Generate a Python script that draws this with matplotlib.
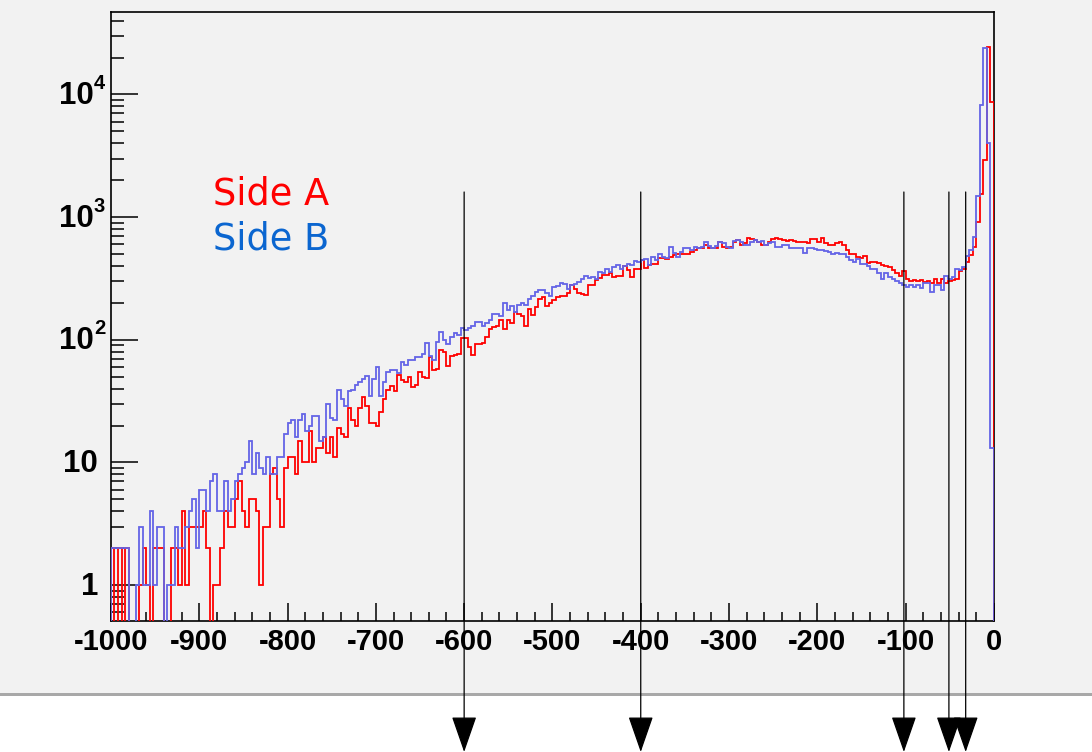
import numpy as np
import matplotlib
matplotlib.use("Agg")
import matplotlib.pyplot as plt
import matplotlib.patches as patches
import matplotlib.transforms as mtransforms
from matplotlib.ticker import FixedLocator, LogLocator, MultipleLocator, NullFormatter

# 250 bins of width 4 between -1000 and 0
x_lo, x_hi, n_bins = -1000, 0, 250

side_a = [
    2, 0, 2, 0, 2, 0, 0, 0, 1, 2, 1, 0, 2, 2, 2, 0, 0, 2, 2, 1,
    4, 1, 3, 3, 3, 3, 4, 2, 0, 1, 1, 2, 4, 3, 3, 5, 7, 4, 3, 5,
    5, 4, 1,
    3, 3, 8, 9, 5, 3, 9, 11, 11, 8, 15, 10, 10, 18, 10, 13, 13, 16, 12, 16,
    11, 19, 17, 16, 28, 22, 20, 28, 34, 29, 21, 21, 20, 26, 33, 39, 42, 38, 52, 47,
    45, 50,
    41, 43, 55, 50, 49, 72, 57, 58, 82, 79, 61, 74, 75, 76, 104, 104, 87, 75, 92, 92,
    95, 106, 122, 128, 129, 145, 122, 145, 138, 167, 163, 155, 129, 177, 159, 184, 214, 225, 189, 201,
    211, 222, 228,
    228, 240, 281, 260, 240, 235, 230, 281, 281, 307, 317, 337, 340, 348, 327, 330, 330, 402, 370, 327,
    381, 381, 449, 386, 406, 418, 418, 466, 466, 455, 474, 490, 505, 505, 505, 505, 520, 537, 556, 556,
    597, 556, 560,
    556, 623, 572, 556, 572, 623, 650, 590, 610, 678, 662, 650, 630, 597, 597, 630, 662, 670, 662, 650,
    637, 650, 637, 630, 630, 623, 610, 662, 662, 630, 678, 610, 590, 597, 610, 630, 590, 537, 505, 497,
    473, 466,
    480, 426, 434, 430, 426, 407, 400, 394, 373, 349, 330, 367, 313, 303, 308, 303, 308, 298, 303, 292,
    313, 292, 313, 292, 303, 308, 313, 367, 380, 430, 490, 575, 910, 1530, 2930, 24600, 8630,
]

side_b = [
    2, 2, 2, 2, 2, 0, 0, 1, 3, 1, 1, 4, 1, 3, 3, 0, 1, 1, 3, 2,
    2, 3, 4, 5, 2, 6, 6, 4, 7, 8, 4, 4, 7, 4, 5, 7, 8, 9, 10, 15,
    8, 12, 9,
    8, 11, 8, 8, 11, 11, 17, 21, 22, 16, 22, 25, 18, 20, 24, 24, 15, 16, 30, 23,
    22, 39, 33, 29, 38, 39, 43, 45, 48, 51, 35, 48, 60, 35, 45, 55, 57, 57, 54, 66,
    62, 68,
    69, 73, 72, 77, 95, 74, 69, 96, 116, 99, 93, 106, 113, 110, 124, 120, 124, 129, 140, 140,
    129, 136, 145, 163, 163, 155, 199, 175, 188, 167, 192, 199, 192, 214, 228, 246, 257, 254, 239, 228,
    271, 274, 291,
    287, 260, 281, 287, 298, 312, 333, 322, 328, 312, 359, 349, 377, 359, 394, 406, 381, 400, 418, 411,
    437, 432, 451, 454, 406, 473, 445, 505, 473, 465, 572, 514, 473, 520, 561, 561, 537, 572, 556, 572,
    630, 583, 556,
    583, 630, 610, 572, 556, 637, 650, 630, 590, 597, 630, 650, 630, 637, 590, 610, 630, 572, 572, 590,
    597, 561, 561, 556, 556, 514, 561, 556, 549, 537, 537, 527, 520, 497, 514, 505, 497, 473, 445, 432,
    459, 418,
    417, 402, 380, 380, 350, 313, 349, 326, 313, 303, 292, 282, 267, 282, 267, 282, 263, 292, 288, 244,
    282, 280, 253, 330, 313, 326, 380, 369, 391, 479, 542, 684, 1478, 8200, 23800, 4040, 13,
]

# cut positions marked with arrows
cuts = [-600, -400, -102, -51, -32]

# y labels: (tick, mantissa, exponent)
y_ticks = [1, 10, 100, 1000, 10000]
y_base = ['1', '10', '10', '10', '10']
y_exp = ['', '', '2', '3', '4']

edges = np.linspace(x_lo, x_hi, n_bins + 1)
floor = 1e-3
lab_font = dict(family='Liberation Sans', weight='bold')

fig = plt.figure(figsize=(10.92, 7.52), dpi=100, facecolor='white')
# canvas background and its lower border
fig.patches.append(patches.Rectangle((0, 0.0785), 1, 1 - 0.0785, transform=fig.transFigure,
                                     facecolor='#f2f2f2', edgecolor='none', zorder=-10))
fig.patches.append(patches.Rectangle((0, 0.0745), 1, 0.0045, transform=fig.transFigure,
                                     facecolor='#a8a8a8', edgecolor='none', zorder=-10))

ax = fig.add_axes([0.1016, 0.1742, 0.8086, 0.8098])
ax.set_facecolor('#f2f2f2')

a = np.array(side_a, dtype=float)
b = np.array(side_b, dtype=float)
ax.stairs(np.where(a > 0, a, floor), edges, baseline=floor, color='#ff0000', lw=1.3, zorder=3)
ax.stairs(np.where(b > 0, b, floor), edges, baseline=floor, color='#6464e6', lw=1.3, zorder=3)

ax.set_yscale('log')
ax.set_xlim(x_lo, x_hi)
ax.set_ylim(0.51, 47000)

ax.set_xticks(np.arange(x_lo, x_hi + 1, 100))
ax.set_xticklabels([f'{v}' for v in range(x_lo, x_hi + 1, 100)])
ax.xaxis.set_minor_locator(MultipleLocator(20))
ax.yaxis.set_major_locator(FixedLocator(y_ticks))
ax.yaxis.set_major_formatter(NullFormatter())
ax.yaxis.set_minor_locator(LogLocator(base=10, subs=np.arange(2, 10), numticks=20))
ax.yaxis.set_minor_formatter(NullFormatter())

ax.tick_params(axis='x', which='major', direction='in', length=12.7, width=1.1, pad=5,
               labelsize=21, top=False)
ax.tick_params(axis='x', which='minor', direction='in', length=6.5, width=1.1, top=False)
ax.tick_params(axis='y', which='major', direction='in', length=19.4, width=1.1, right=False)
ax.tick_params(axis='y', which='minor', direction='in', length=9.7, width=1.1, right=False)
for lab in ax.get_xticklabels():
    lab.set_fontfamily('Liberation Sans')
    lab.set_fontweight('bold')

# y labels written as mantissa plus raised exponent
for t, base, ex in zip(y_ticks, y_base, y_exp):
    dx = -13 if not ex else -17
    ax.annotate(base, xy=(0, t), xycoords=('axes fraction', 'data'),
                xytext=(dx * 0.72, -1), textcoords='offset points',
                ha='right', va='center', fontsize=22.5, **lab_font)
    if ex:
        ax.annotate(ex, xy=(0, t), xycoords=('axes fraction', 'data'),
                    xytext=(dx * 0.72, 8), textcoords='offset points',
                    ha='left', va='center', fontsize=14.5, **lab_font)

for s in ax.spines.values():
    s.set_linewidth(1.2)
    s.set_color('black')

ax.text(0.1155, 0.6847, 'Side A', transform=ax.transAxes, color='#ff0000',
        fontsize=26.5, family='DejaVu Sans', va='baseline', ha='left')
ax.text(0.1155, 0.6108, 'Side B', transform=ax.transAxes, color='#0b66d0',
        fontsize=26.5, family='DejaVu Sans', va='baseline', ha='left')

# vertical markers running from the plot down past the canvas edge
trans = mtransforms.blended_transform_factory(ax.transData, fig.transFigure)
for c in cuts:
    ax.annotate('', xy=(c, 0.0), xycoords=trans, xytext=(c, 0.7447), textcoords=trans,
                annotation_clip=False, zorder=4,
                arrowprops=dict(arrowstyle='-|>,head_length=2.3,head_width=0.8',
                                mutation_scale=10, shrinkA=0, shrinkB=0,
                                color='black', lw=0.9))

fig.savefig('out.png', dpi=100)
